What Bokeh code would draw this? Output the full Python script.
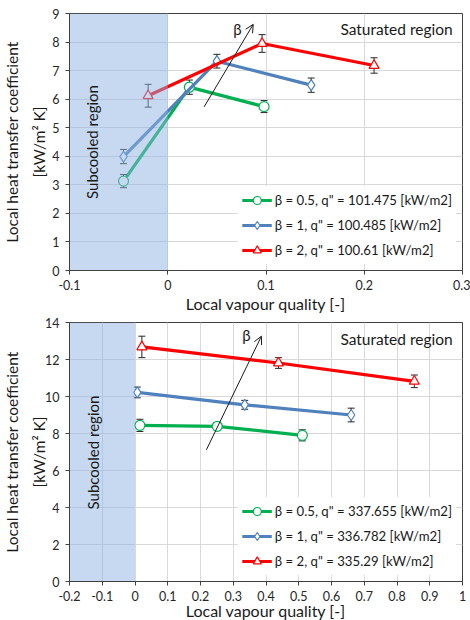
from bokeh.plotting import figure
from bokeh.layouts import column
from bokeh.models import FixedTicker, Arrow, OpenHead, Range1d
from bokeh.core.properties import value
from bokeh.embed import file_html
from bokeh.resources import INLINE

FONT = "Lato"

# ---------------- data: top chart (q" ~ 100 kW/m2) ----------------
top_labels = ['β = 0.5, q" = 101.475 [kW/m2]',
              'β = 1, q" = 100.485 [kW/m2]',
              'β = 2, q" = 100.61 [kW/m2]']
top_x_b05 = [-0.045, 0.022, 0.098]
top_h_b05 = [3.13, 6.42, 5.74]
top_e_b05 = [0.23, 0.25, 0.21]
top_x_b1 = [-0.045, 0.050, 0.146]
top_h_b1 = [3.99, 7.33, 6.49]
top_e_b1 = [0.25, 0.24, 0.25]
top_x_b2 = [-0.020, 0.096, 0.210]
top_h_b2 = [6.12, 7.95, 7.18]
top_e_b2 = [0.40, 0.31, 0.27]
top_xticks = [-0.1, 0, 0.1, 0.2, 0.3]
top_yticks = [0, 1, 2, 3, 4, 5, 6, 7, 8, 9]
top_subcooled = [-0.1, 0.0]
top_arrow = [0.037, 5.73, 0.087, 8.62]     # x0, y0, x1, y1
top_beta_pos = [0.071, 8.47]
top_sat_pos = [0.29, 8.44]
top_sub_pos = [-0.077, 4.5]

# ---------------- data: bottom chart (q" ~ 336 kW/m2) ----------------
bot_labels = ['β = 0.5, q" = 337.655 [kW/m2]',
              'β = 1, q" = 336.782 [kW/m2]',
              'β = 2, q" = 335.29 [kW/m2]']
bot_x_b05 = [0.015, 0.251, 0.511]
bot_h_b05 = [8.44, 8.39, 7.90]
bot_e_b05 = [0.33, 0.18, 0.30]
bot_x_b1 = [0.007, 0.335, 0.660]
bot_h_b1 = [10.22, 9.55, 9.00]
bot_e_b1 = [0.29, 0.24, 0.37]
bot_x_b2 = [0.021, 0.438, 0.853]
bot_h_b2 = [12.68, 11.81, 10.82]
bot_e_b2 = [0.58, 0.29, 0.34]
bot_xticks = [-0.2, -0.1, 0, 0.1, 0.2, 0.3, 0.4, 0.5, 0.6, 0.7, 0.8, 0.9, 1]
bot_yticks = [0, 2, 4, 6, 8, 10, 12, 14]
bot_subcooled = [-0.2, 0.0]
bot_arrow = [0.218, 7.12, 0.386, 13.26]
bot_beta_pos = [0.34, 13.3]
bot_sat_pos = [0.97, 13.13]
bot_sub_pos = [-0.129, 6.97]

COLORS = ["#00b050", "#4f81bd", "#ff0000"]
MARKERS = ["circle", "diamond", "triangle"]
SIZES = [10, 11, 10]


def tick_fmt(v):
    if v == int(v):
        return str(int(v))
    return ("%g" % v)


def make_chart(series, labels, xticks, yticks, subcooled, arrow, beta_pos,
               sat_pos, sub_pos, height, top_border, right_border, ylab_standoff,
               xlab_standoff, bottom_border):
    xr = Range1d(xticks[0], xticks[-1])
    yr = Range1d(yticks[0], yticks[-1])
    p = figure(width=470, height=height, x_range=xr, y_range=yr,
               output_backend="svg", toolbar_location=None,
               min_border_left=68, min_border_right=right_border,
               min_border_top=top_border, min_border_bottom=bottom_border)
    p.background_fill_color = "white"
    p.outline_line_color = "#404040"
    for ax, ticks in ((p.xaxis[0], xticks), (p.yaxis[0], yticks)):
        ax.ticker = FixedTicker(ticks=ticks)
        ax.major_label_overrides = {t: tick_fmt(t) for t in ticks}
        ax.minor_tick_line_color = None
        ax.major_tick_in = 0
        ax.major_tick_out = 4
        ax.axis_line_color = "#404040"
        ax.major_tick_line_color = "#404040"
        ax.major_label_text_font = FONT
        ax.major_label_text_font_size = "12.5px"
        ax.major_label_text_color = "#262626"
        ax.axis_label_text_font = FONT
        ax.axis_label_text_font_style = "normal"
        ax.axis_label_text_color = "#1a1a1a"
    p.xaxis.axis_label = "Local vapour quality [-]"
    p.xaxis.axis_label_text_font_size = "16px"
    p.xaxis.major_label_standoff = 5
    p.xaxis.axis_label_standoff = xlab_standoff
    p.yaxis.axis_label = "Local heat transfer coefficient\n[kW/m\u00b2 K]"
    p.yaxis.axis_label_text_font_size = "15.5px"
    p.yaxis.axis_label_text_line_height = 1.5
    p.yaxis.major_label_standoff = 6
    p.yaxis.axis_label_standoff = ylab_standoff
    p.grid.grid_line_color = "#d9d9d9"
    p.grid.grid_line_width = 1

    for (xs, hs, es), lab, col, mk, sz in zip(series, labels, COLORS, MARKERS, SIZES):
        p.line(xs, hs, line_color=col, line_width=3.2, legend_label=lab)
        lo = [h - e for h, e in zip(hs, es)]
        hi = [h + e for h, e in zip(hs, es)]
        p.segment(x0=xs, y0=lo, x1=xs, y1=hi, line_color="#262626", line_width=1)
        p.scatter(xs + xs, lo + hi, marker="dash", size=7, line_color="#262626",
                  line_width=1)
        p.scatter(xs, hs, marker=mk, size=sz, fill_color="white", line_color=col,
                  line_width=1.2, legend_label=lab)

    # subcooled region overlay (semi transparent, over the data)
    p.quad(left=[subcooled[0]], right=[subcooled[1]], bottom=[yticks[0]],
           top=[yticks[-1]], fill_color="#8db4e2", fill_alpha=0.5, line_color=None)

    p.text(x=[sub_pos[0]], y=[sub_pos[1]], text=["Subcooled region"], angle=1.5708,
           text_font=value(FONT), text_font_size="15px", text_align="center",
           text_baseline="middle", text_color="#1a1a1a")
    p.text(x=[sat_pos[0]], y=[sat_pos[1]], text=["Saturated region"],
           text_font=value(FONT), text_font_size="15.5px", text_align="right",
           text_baseline="middle", text_color="#1a1a1a")
    p.text(x=[beta_pos[0]], y=[beta_pos[1]], text=["β"],
           text_font=value(FONT), text_font_size="15px", text_align="center",
           text_baseline="middle", text_color="#1a1a1a")
    p.add_layout(Arrow(end=OpenHead(size=8, line_width=1, line_color="#1a1a1a"),
                       x_start=arrow[0], y_start=arrow[1], x_end=arrow[2],
                       y_end=arrow[3], line_width=1, line_color="#1a1a1a"))

    lg = p.legend[0]
    lg.location = "bottom_right"
    lg.border_line_alpha = 0
    lg.background_fill_color = "white"
    lg.background_fill_alpha = 1
    lg.label_text_font = FONT
    lg.label_text_font_size = "13.2px"
    lg.label_text_color = "#1a1a1a"
    lg.glyph_width = 30
    lg.glyph_height = 20
    lg.label_height = 20
    lg.spacing = 5
    lg.padding = 4
    lg.margin = 6
    lg.label_standoff = 3
    return p


top = make_chart([(top_x_b05, top_h_b05, top_e_b05), (top_x_b1, top_h_b1, top_e_b1),
                  (top_x_b2, top_h_b2, top_e_b2)], top_labels, top_xticks, top_yticks,
                 top_subcooled, top_arrow, top_beta_pos, top_sat_pos, top_sub_pos,
                 315, 13, 8, 1, 1, 44)
bot = make_chart([(bot_x_b05, bot_h_b05, bot_e_b05), (bot_x_b1, bot_h_b1, bot_e_b1),
                  (bot_x_b2, bot_h_b2, bot_e_b2)], bot_labels, bot_xticks, bot_yticks,
                 bot_subcooled, bot_arrow, bot_beta_pos, bot_sat_pos, bot_sub_pos,
                 307, 7, 6, -6, -3, 41)

layout = column(top, bot, spacing=0)
open("out.html", "w").write(file_html(layout, INLINE))
